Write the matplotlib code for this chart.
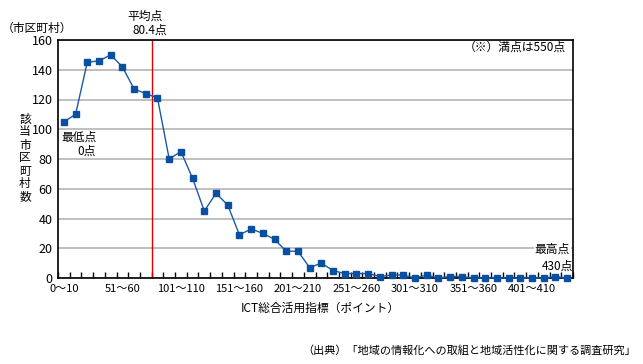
import matplotlib
matplotlib.use("Agg")
import matplotlib.pyplot as plt
import numpy as np

plt.rcParams['font.family'] = ['Noto Sans CJK JP', 'DejaVu Sans']

# 各区間の該当市区町村数 (0～10, 11～20, ..., 431～440)
counts = [105, 110, 145, 146, 150, 142, 127, 124, 121, 80,
          85, 67, 45, 57, 49, 29, 33, 30, 26, 18,
          18, 7, 10, 5, 3, 3, 3, 1, 2, 2,
          0, 2, 0, 1, 1, 0, 0, 0, 0, 0,
          0, 0, 1, 0]
labels = ['0～10' if i == 0 else '%d～%d' % (i * 10 + 1, i * 10 + 10)
          for i in range(len(counts))]
label_every = 5
mean_score = 80.4

x = np.arange(len(counts))

fig = plt.figure(figsize=(6.43, 3.64), dpi=100)
ax = fig.add_axes([58 / 643, 1 - 278 / 364, 515 / 643, 238 / 364])

ax.set_xlim(-0.5, len(counts) - 0.5)
ax.set_ylim(0, 160)
ax.set_yticks(np.arange(0, 161, 20))
ax.yaxis.grid(True, color='#b4b4b4', lw=1.2)
ax.set_axisbelow(True)

# 平均点の縦線
ax.axvline(mean_score / 10 - 0.5, color='#e00000', lw=1, zorder=2)

ax.plot(x, counts, color='#1a5aa8', lw=1, marker='s', ms=4.5,
        mfc='#0a50a0', mec='#0a50a0', zorder=3, clip_on=False)

ax.set_xticks(x[::label_every])
ax.set_xticklabels(labels[::label_every], fontsize=8)
ax.set_xticks(np.arange(-0.5, len(counts), 1), minor=True)
ax.tick_params(axis='x', which='major', length=0, pad=4)
ax.tick_params(axis='x', which='minor', direction='in', length=4, width=1)
ax.tick_params(axis='y', length=0, labelsize=9, pad=4)
for s in ax.spines.values():
    s.set_color('black')
    s.set_linewidth(1.2)

fs = 8.5
fig.text(2 / 643, 1 - 28 / 364, '（市区町村）', fontsize=fs, va='center', ha='left')
fig.text(145 / 643, 1 - 16 / 364, '平均点', fontsize=fs, va='center', ha='center')
fig.text(150 / 643, 1 - 30 / 364, '80.4点', fontsize=fs, va='center', ha='center')
fig.text(97 / 643, 1 - 137 / 364, '最低点', fontsize=fs, va='center', ha='right')
fig.text(96 / 643, 1 - 151 / 364, '0点', fontsize=fs, va='center', ha='right')
fig.text(570 / 643, 1 - 249 / 364, '最高点', fontsize=fs, va='center', ha='right',
         bbox=dict(fc='white', ec='none', pad=0.5))
fig.text(573 / 643, 1 - 266 / 364, '430点', fontsize=fs, va='center', ha='right')
fig.text(566 / 643, 1 - 47 / 364, '（※）満点は550点', fontsize=fs, va='center', ha='right')

fig.text(25 / 643, 1 - 158 / 364, '\n'.join('該当市区町村数'), fontsize=fs,
         va='center', ha='center', linespacing=1.0)
fig.text(320 / 643, 1 - 308 / 364, 'ICT総合活用指標（ポイント）', fontsize=fs,
         va='center', ha='center')
fig.text(636 / 643, 1 - 350 / 364, '（出典）「地域の情報化への取組と地域活性化に関する調査研究」',
         fontsize=8, va='center', ha='right')

fig.savefig('out.png', dpi=100)
